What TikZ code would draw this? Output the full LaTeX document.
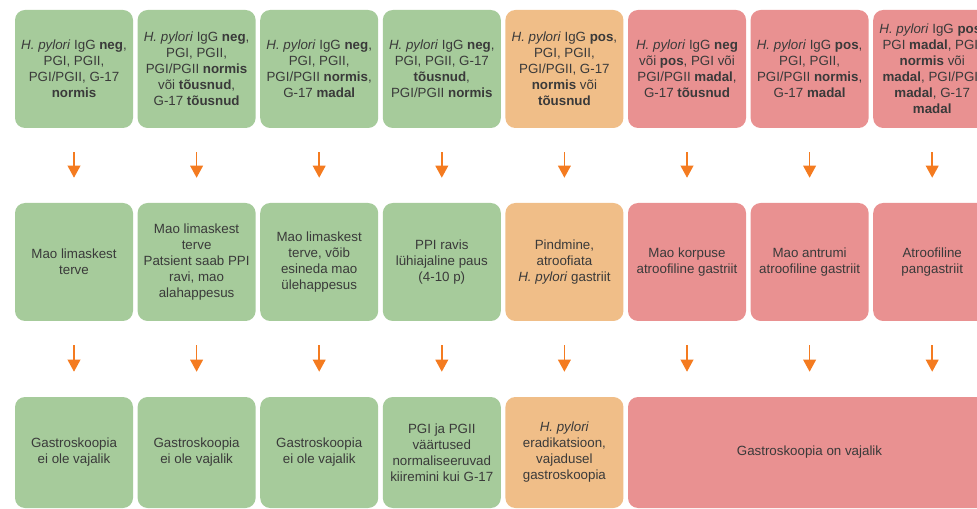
\documentclass[tikz,border=0pt]{standalone}
\usepackage{fontspec}
\setmainfont{Liberation Sans}
\usetikzlibrary{arrows.meta}
\definecolor{okgreen}{HTML}{A6CB9B}
\definecolor{hporange}{HTML}{F0BE88}
\definecolor{atrred}{HTML}{E99191}
\definecolor{arroworange}{HTML}{F47B20}
\definecolor{textgray}{HTML}{3A3A3A}
\begin{document}
\begin{tikzpicture}[x=0.75pt, y=-0.75pt,
  box/.style={rounded corners=7.5pt, inner sep=0pt, minimum width=88.5pt, minimum height=88.5pt, align=center, text=textgray, font=\fontsize{10}{12}\selectfont},
  okbox/.style={box, fill=okgreen},
  hpbox/.style={box, fill=hporange},
  atrbox/.style={box, fill=atrred},
  lowbox/.style={minimum height=83.25pt},
  arr/.style={arroworange, line width=1.1pt, -{Triangle[width=9.5pt,length=9pt]}, shorten <=18pt, shorten >=18.75pt}]
\useasboundingbox (0,0) rectangle (977,509);
\clip (0,0) rectangle (977,509);
% analyysid
\node[okbox] (t1) at (74,69){\textit{H. pylori} IgG \textbf{neg},\\PGI, PGII,\\PGI/PGII, G-17\\\textbf{normis}};
\node[okbox] (t2) at (196.6,69){\textit{H. pylori} IgG \textbf{neg},\\PGI, PGII,\\PGI/PGII \textbf{normis}\\või \textbf{tõusnud},\\G-17 \textbf{tõusnud}};
\node[okbox] (t3) at (319.2,69){\textit{H. pylori} IgG \textbf{neg},\\PGI, PGII,\\PGI/PGII \textbf{normis},\\G-17 \textbf{madal}};
\node[okbox] (t4) at (441.8,69){\textit{H. pylori} IgG \textbf{neg},\\PGI, PGII, G-17\\\textbf{tõusnud},\\PGI/PGII \textbf{normis}};
\node[hpbox] (t5) at (564.4,69){\textit{H. pylori} IgG \textbf{pos},\\PGI, PGII,\\PGI/PGII, G-17\\\textbf{normis} või\\\textbf{tõusnud}};
\node[atrbox] (t6) at (687,69){\textit{H. pylori} IgG \textbf{neg}\\või \textbf{pos}, PGI või\\PGI/PGII \textbf{madal},\\G-17 \textbf{tõusnud}};
\node[atrbox] (t7) at (809.6,69){\textit{H. pylori} IgG \textbf{pos},\\PGI, PGII,\\PGI/PGII \textbf{normis},\\G-17 \textbf{madal}};
\node[atrbox] (t8) at (932.2,69){\textit{H. pylori} IgG \textbf{pos},\\PGI \textbf{madal}, PGII\\\textbf{normis} või\\\textbf{madal}, PGI/PGII\\\textbf{madal}, G-17\\\textbf{madal}};
% diagnoos
\node[okbox] (d1) at (74,262){Mao limaskest\\terve};
\node[okbox] (d2) at (196.6,262){Mao limaskest\\terve\\Patsient saab PPI\\ravi, mao\\alahappesus};
\node[okbox] (d3) at (319.2,262){Mao limaskest\\terve, võib\\esineda mao\\ülehappesus};
\node[okbox] (d4) at (441.8,262){PPI ravis\\lühiajaline paus\\(4-10 p)};
\node[hpbox] (d5) at (564.4,262){Pindmine,\\atroofiata\\\textit{H. pylori} gastriit};
\node[atrbox] (d6) at (687,262){Mao korpuse\\atroofiline gastriit};
\node[atrbox] (d7) at (809.6,262){Mao antrumi\\atroofiline gastriit};
\node[atrbox] (d8) at (932.2,262){Atroofiline\\pangastriit};
% edasi
\node[okbox, lowbox] (r1) at (74,452.5){Gastroskoopia\\ei ole vajalik};
\node[okbox, lowbox] (r2) at (196.6,452.5){Gastroskoopia\\ei ole vajalik};
\node[okbox, lowbox] (r3) at (319.2,452.5){Gastroskoopia\\ei ole vajalik};
\node[okbox, lowbox] (r4) at (441.8,452.5){PGI ja PGII\\väärtused\\normaliseeruvad\\kiiremini kui G-17};
\node[hpbox, lowbox] (r5) at (564.4,452.5){\textit{H. pylori}\\eradikatsioon,\\vajadusel\\gastroskoopia};
\node[atrbox, lowbox, minimum width=272.25pt] (r6) at (809.5,452.5){Gastroskoopia on vajalik};
\draw[arr](t1) -- (d1);
\draw[arr](t2) -- (d2);
\draw[arr](t3) -- (d3);
\draw[arr](t4) -- (d4);
\draw[arr](t5) -- (d5);
\draw[arr](t6) -- (d6);
\draw[arr](t7) -- (d7);
\draw[arr](t8) -- (d8);
\draw[arr](d1) -- (r1);
\draw[arr](d2) -- (r2);
\draw[arr](d3) -- (r3);
\draw[arr](d4) -- (r4);
\draw[arr](d5) -- (r5);
\draw[arr](d6.south) -- (d6.south |- r6.north);
\draw[arr](d7.south) -- (d7.south |- r6.north);
\draw[arr](d8.south) -- (d8.south |- r6.north);
\end{tikzpicture}
\end{document}
